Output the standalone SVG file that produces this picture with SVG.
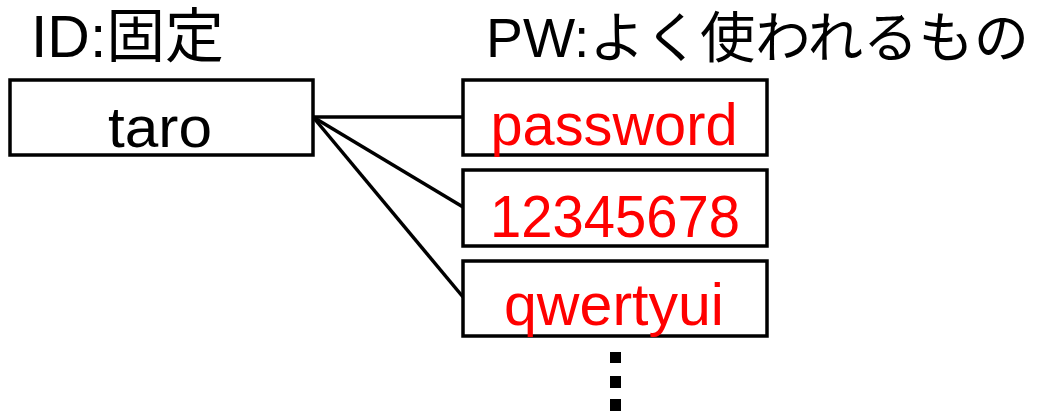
<svg xmlns="http://www.w3.org/2000/svg" width="1039" height="411" viewBox="0 0 1039 411">
  <style>
    .box { fill: #fff; stroke: #000; stroke-width: 3.5; }
    .title { font-family: "Liberation Sans", "Noto Sans CJK JP", sans-serif; fill: #000; }
    .id { font-family: "Liberation Sans", sans-serif; font-size: 58px; fill: #000; text-anchor: middle; }
    .pw { font-family: "Liberation Sans", sans-serif; font-size: 60px; fill: #ff0000; text-anchor: middle; }
    .link { stroke: #000; stroke-width: 3.5; fill: none; }
  </style>

  <!-- column headings -->
  <text class="title" x="31" y="57" font-size="59" textLength="193" lengthAdjust="spacingAndGlyphs">ID:固定</text>
  <text class="title" x="486" y="57" font-size="55" textLength="543" lengthAdjust="spacingAndGlyphs">PW:よく使われるもの</text>

  <!-- connectors from the fixed ID to each candidate password -->
  <g id="connectors">
    <line class="link" x1="313" y1="117" x2="463" y2="117"/>
    <line class="link" x1="313" y1="117" x2="463" y2="207"/>
    <line class="link" x1="313" y1="117" x2="463" y2="297"/>
  </g>

  <g id="node-taro">
    <rect class="box" x="10" y="80" width="303" height="75"/>
    <text class="id" x="160" y="147" textLength="104" lengthAdjust="spacingAndGlyphs">taro</text>
  </g>

  <g id="node-password">
    <rect class="box" x="463" y="80" width="304" height="75"/>
    <text class="pw" x="614" y="145" textLength="247" lengthAdjust="spacingAndGlyphs">password</text>
  </g>

  <g id="node-12345678">
    <rect class="box" x="463" y="170" width="304" height="76"/>
    <text class="pw" x="615" y="237" textLength="250" lengthAdjust="spacingAndGlyphs">12345678</text>
  </g>

  <g id="node-qwertyui">
    <rect class="box" x="463" y="261" width="304" height="75"/>
    <text class="pw" x="614" y="325" textLength="220" lengthAdjust="spacingAndGlyphs">qwertyui</text>
  </g>

  <!-- vertical ellipsis: more entries follow -->
  <g id="more" fill="#000">
    <rect x="610" y="352" width="11" height="11"/>
    <rect x="610" y="376" width="11" height="12"/>
    <rect x="610" y="399" width="11" height="12"/>
  </g>
</svg>
